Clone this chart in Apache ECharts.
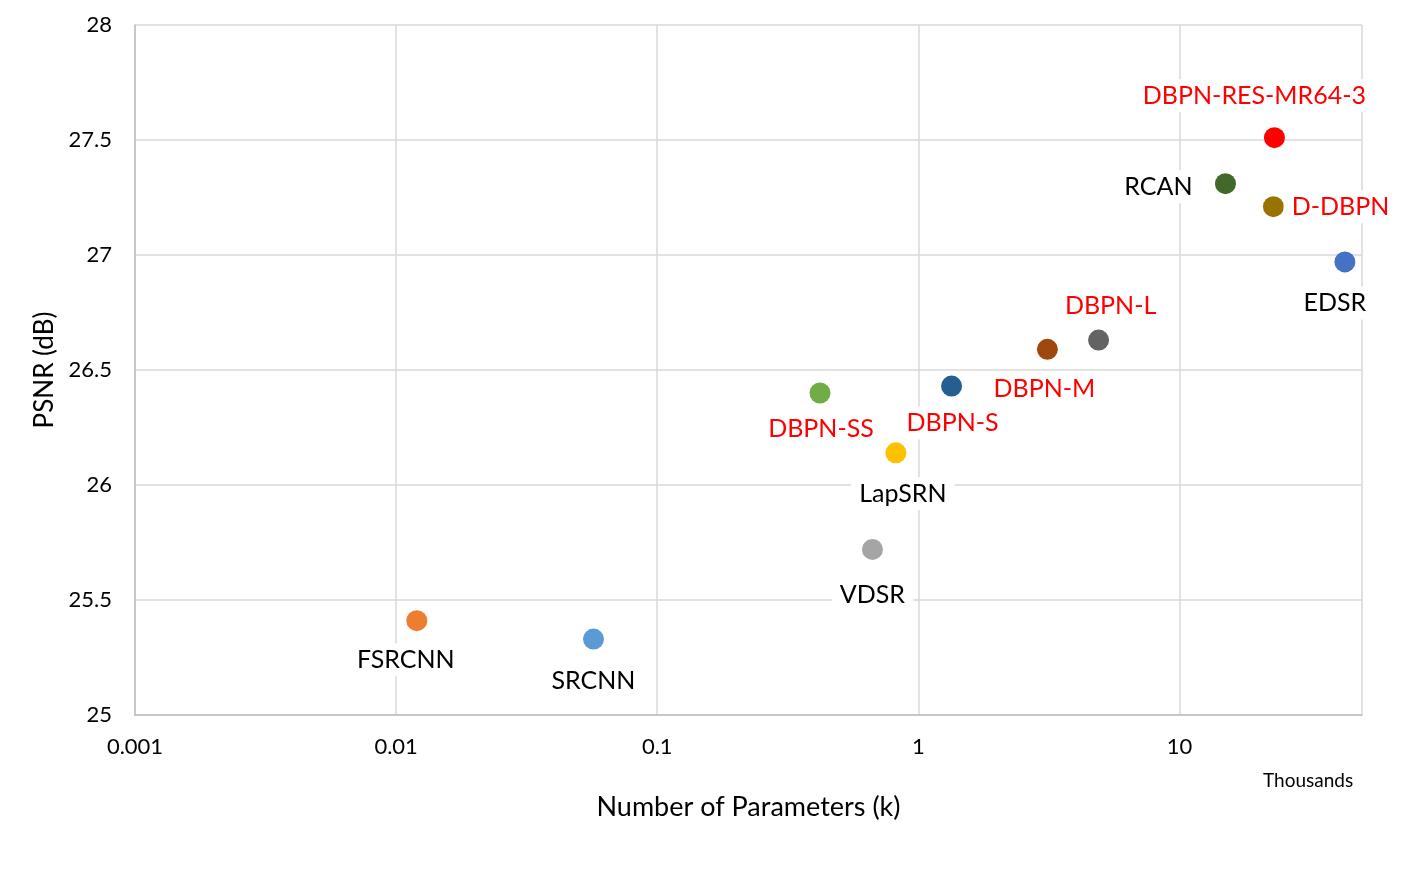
<!DOCTYPE html>
<html>
<head>
<meta charset="utf-8">
<title>PSNR vs Parameters</title>
<script src="https://cdn.jsdelivr.net/npm/echarts@6/dist/echarts.min.js"></script>
<style>
  html, body { margin: 0; padding: 0; background: #fff; }
  #chart { width: 1414px; height: 872px; }
</style>
</head>
<body>
<div id="chart"></div>
<script>
// 数据
const methods = ['FSRCNN', 'SRCNN', 'DBPN-SS', 'LapSRN', 'VDSR', 'DBPN-S', 'DBPN-M', 'DBPN-L', 'RCAN', 'D-DBPN', 'DBPN-RES-MR64-3', 'EDSR'];
const params = [0.012, 0.057, 0.42, 0.82, 0.667, 1.34, 3.12, 4.9, 15, 22.9, 23.1, 43];
const psnr = [25.41, 25.33, 26.40, 26.14, 25.72, 26.43, 26.59, 26.63, 27.31, 27.21, 27.51, 26.97];

// 样式: 颜色和标签相对圆点中心的偏移
const dotColors = ['#ED7D31', '#5B9BD5', '#70AD47', '#FFC000', '#A5A5A5', '#255E91', '#9E480E', '#636363', '#43682B', '#997300', '#FF0000', '#4472C4'];
const labelRed = [false, false, true, false, false, true, true, true, false, true, true, false];
const labelOffsets = [[-11, 39], [0, 42], [1, 36], [7, 41], [0, 46], [1, 37], [-3, 40], [12, -34], [-67, 3], [67, 0], [-20, -42], [-10, 41]];

const FONT = 'Lato';
const DOT = 21;

const chart = echarts.init(document.getElementById('chart'));

const points = methods.map((name, i) => ({
    name: name,
    value: [params[i], psnr[i]],
    itemStyle: { color: dotColors[i], opacity: 1 },
    label: {
        show: true,
        // 位置相对于圆点包围盒左上角
        position: [DOT / 2 + labelOffsets[i][0], DOT / 2 + labelOffsets[i][1]],
        align: 'center',
        verticalAlign: 'middle',
        formatter: name,
        color: labelRed[i] ? '#FF0000' : '#000000',
        opacity: 1,
        fontFamily: FONT,
        fontSize: 25,
        backgroundColor: '#ffffff',
        padding: [4, 8]
    }
}));

const option = {
    animation: false,
    backgroundColor: '#ffffff',
    grid: {
        left: 135,
        right: 52,
        top: 25,
        bottom: 157
    },
    xAxis: {
        type: 'log',
        logBase: 10,
        min: 0.001,
        max: 50,
        name: 'Number of Parameters (k)',
        nameLocation: 'middle',
        nameGap: 79,
        nameTextStyle: { fontFamily: FONT, fontSize: 27, color: '#000' },
        axisLine: { show: true, lineStyle: { color: '#BFBFBF', width: 1.5 } },
        axisTick: { show: false },
        axisLabel: {
            fontFamily: FONT,
            fontSize: 22,
            color: '#000',
            margin: 21,
            showMaxLabel: false,
            formatter: v => String(+v.toPrecision(3))
        },
        splitLine: { show: true, lineStyle: { color: '#D9D9D9', width: 1.5 } }
    },
    yAxis: {
        type: 'value',
        min: 25,
        max: 28,
        interval: 0.5,
        name: 'PSNR (dB)',
        nameLocation: 'middle',
        nameGap: 76,
        nameRotate: 90,
        nameTextStyle: { fontFamily: FONT, fontSize: 26, color: '#000' },
        axisLine: { show: true, lineStyle: { color: '#BFBFBF', width: 1.5 } },
        axisTick: { show: false },
        axisLabel: { fontFamily: FONT, fontSize: 22, color: '#000', margin: 23 },
        splitLine: { show: true, lineStyle: { color: '#D9D9D9', width: 1.5 } }
    },
    graphic: [{
        type: 'text',
        left: 1263,
        top: 771,
        style: { text: 'Thousands', fontFamily: FONT, fontSize: 19, fill: '#000' }
    }],
    series: [{
        type: 'scatter',
        symbolSize: DOT,
        data: points,
        labelLayout: { hideOverlap: false }
    }]
};

option && chart.setOption(option);
</script>
</body>
</html>
